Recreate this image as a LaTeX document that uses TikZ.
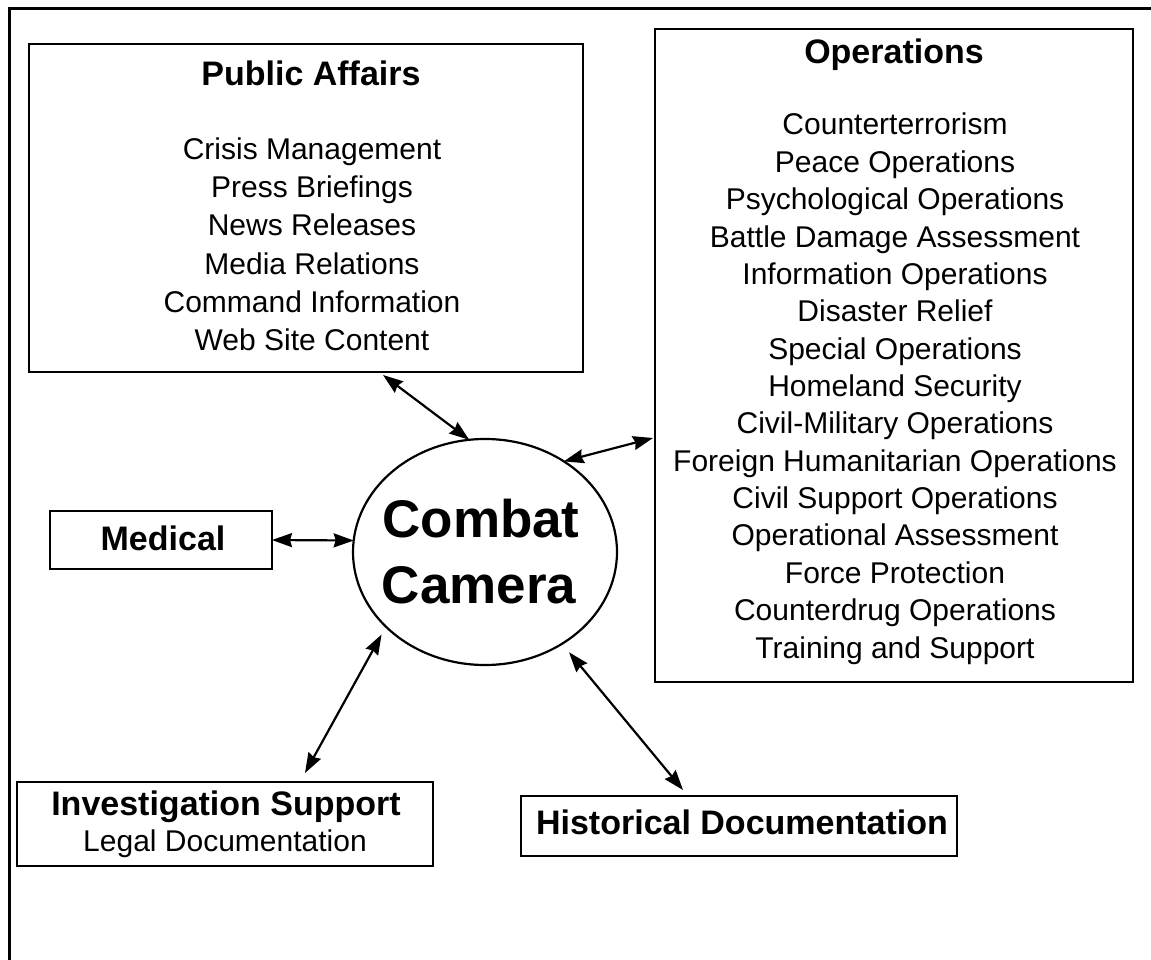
\documentclass[tikz,border=0pt]{standalone}
\usepackage{fontspec}
\setmainfont{Liberation Sans}
\usetikzlibrary{shapes.geometric,arrows.meta}
\begin{document}
\begin{tikzpicture}[x=1pt,y=-1pt,
  frame/.style={draw,line width=2.4pt,inner sep=0pt,outer sep=0pt},
  item/.style={font=\fontsize{30}{36}\selectfont,anchor=base,inner sep=0pt},
  head/.style={font=\fontsize{34}{40}\selectfont\bfseries,anchor=base,inner sep=0pt},
  big/.style={font=\fontsize{53}{60}\selectfont\bfseries,anchor=base,inner sep=0pt},
  link/.style={line width=2.2pt,{Stealth[length=20pt,width=14pt,inset=2pt]}-{Stealth[length=20pt,width=14pt,inset=2pt]}}]
\useasboundingbox (0,0) rectangle (1151,960);
% outer frame
\draw[line width=3pt] (9,960) -- (9,9) -- (1151,9);
% boxes
\node[frame,minimum width=554pt,minimum height=328pt] (pa) at (306,208) {};
\node[frame,minimum width=478pt,minimum height=653pt] (ops) at (894,355.5) {};
\node[frame,minimum width=222pt,minimum height=58pt] (med) at (161,540) {};
\node[frame,minimum width=416pt,minimum height=84pt] (inv) at (225,824) {};
\node[frame,minimum width=436pt,minimum height=60pt] (hist) at (739,826) {};
\node[draw,ellipse,line width=2.2pt,inner sep=0pt,outer sep=0pt,minimum width=264pt,minimum height=226pt] (cc) at (485,552) {};
% texts
\node[head] (patitle) at (311,86) {Public Affairs};
\foreach \t [count=\i from 0] in {Crisis Management,Press Briefings,News Releases,Media Relations,Command Information,Web Site Content}
  \node[item] (pa\i) at (312,{160+38*\i}) {\t};
\node[head] (opstitle) at (894,64) {Operations};
\foreach \t [count=\i from 0] in {Counterterrorism,Peace Operations,Psychological Operations,Battle Damage Assessment,Information Operations,Disaster Relief,Special Operations,Homeland Security,Civil-Military Operations,Foreign Humanitarian Operations,Civil Support Operations,Operational Assessment,Force Protection,Counterdrug Operations,Training and Support}
  \node[item] (op\i) at (895,{135+37.36*\i}) {\t};
\node[head] (medtext) at (163,550) {Medical};
\node[head] (invtitle) at (226,815) {Investigation Support};
\node[item] (invtext) at (225,851) {Legal Documentation};
\node[head] (histtext) at (742,834) {Historical Documentation};
\node[big] (cc1) at (481,537) {Combat};
\node[big] (cc2) at (479,603) {Camera};
% connectors
\draw[link] ([xshift=77pt,yshift=-3pt]pa.south) -- (cc.98);
\draw[link] (cc.49) -- ([xshift=-2pt,yshift=-82.5pt]ops.west);
\draw[link] (med.east) -- (cc.175);
\draw[link,shorten >=9pt] ([xshift=80pt,yshift=9pt]inv.north) -- (cc.217);
\draw[link,shorten <=11pt] (cc.310) -- ([xshift=-56pt,yshift=6pt]hist.north);
\end{tikzpicture}
\end{document}
